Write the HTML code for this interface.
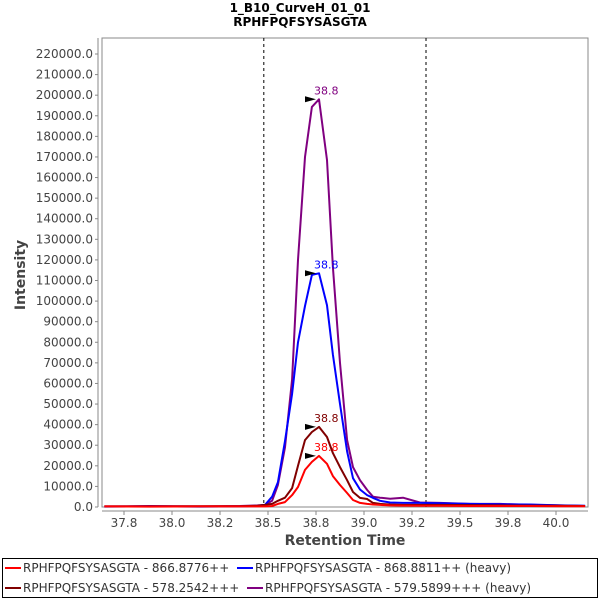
<!DOCTYPE html>
<html><head><meta charset="utf-8"><style>
body{margin:0;background:#fff;width:600px;height:600px;overflow:hidden;font-family:"Liberation Sans","DejaVu Sans",sans-serif}
</style></head><body>
<svg id="chart" width="600" height="600" xmlns="http://www.w3.org/2000/svg" font-family="DejaVu Sans, Liberation Sans, sans-serif">
<text x="300" y="12" text-anchor="middle" font-size="12" font-weight="bold">1_B10_CurveH_01_01</text>
<text x="300" y="26" text-anchor="middle" font-size="12" font-weight="bold">RPHFPQFSYSASGTA</text>
<rect x="102" y="38" width="486" height="469" fill="#fff" stroke="#888" stroke-width="1"/>
<line x1="98" y1="38" x2="98" y2="507" stroke="#888"/>
<line x1="102" y1="511" x2="588" y2="511" stroke="#888"/>
<g id="yticks"></g><g id="xticks"></g><g id="marks"></g><g id="series"></g><g id="peaks"></g>
<text transform="translate(25,275) rotate(-90)" text-anchor="middle" font-size="14" font-weight="bold" fill="#444">Intensity</text>
<text x="345" y="545" text-anchor="middle" font-size="14" font-weight="bold" fill="#444">Retention Time</text>
<g>
<rect x="2.5" y="558.5" width="595" height="39" fill="#fff" stroke="#000"/>
<g><line x1="5" y1="568" x2="21" y2="568" stroke="#ff0000" stroke-width="2"/><text x="23" y="572" font-size="12" fill="#333">RPHFPQFSYSASGTA - 866.8776++</text></g>
<g><line x1="237" y1="568" x2="253" y2="568" stroke="#0000ff" stroke-width="2"/><text x="255" y="572" font-size="12" fill="#333">RPHFPQFSYSASGTA - 868.8811++ (heavy)</text></g>
<g><line x1="5" y1="588" x2="21" y2="588" stroke="#800000" stroke-width="2"/><text x="23" y="592" font-size="12" fill="#333">RPHFPQFSYSASGTA - 578.2542+++</text></g>
<g><line x1="247" y1="588" x2="263" y2="588" stroke="#800080" stroke-width="2"/><text x="265" y="592" font-size="12" fill="#333">RPHFPQFSYSASGTA - 579.5899+++ (heavy)</text></g>
</g>
</svg>
<script>
const times=[37.70,37.93,38.19,38.39,38.48,38.518,38.554,38.584,38.620,38.656,38.686,38.722,38.757,38.793,38.834,38.864,38.900,38.936,38.966,39.002,39.038,39.068,39.104,39.155,39.221,39.307,39.409,39.562,39.715,39.868,40.020,40.148];
const redVals=[300,200,300,300,300,300,500,1500,2400,5800,9700,18000,21900,24800,21000,15000,10700,6800,3400,2000,1500,1200,1000,800,700,600,600,500,500,500,400,400];
const blueVals=[200,300,200,300,500,1000,5000,12000,32000,55000,80000,97600,112700,113500,98000,74000,50000,27000,14000,8500,5800,4400,3000,2200,2000,2000,1800,1500,1300,1200,800,600];
const darkRedVals=[300,300,400,400,600,1000,1500,3000,4500,9200,20000,32500,36400,38900,34000,26200,19400,13000,7300,4400,3900,2000,1500,1200,1000,1000,1000,900,800,700,600,500];
const purpleVals=[300,500,300,500,800,1000,3000,10700,29000,62000,120000,170000,194300,198000,168500,116500,70000,32500,19400,13000,8300,5000,4500,4000,4500,2200,2000,1500,1500,1000,800,500];
const yTicks=[0,10000,20000,30000,40000,50000,60000,70000,80000,90000,100000,110000,120000,130000,140000,150000,160000,170000,180000,190000,200000,210000,220000];
const xTickLabels=["37.8","38.0","38.2","38.5","38.8","39.0","39.2","39.5","39.8","40.0"];
const xTickStart=37.8, xTickEnd=40.0;
const dividers=[38.512,39.338];
const peakTime=[38.793,38.793,38.793,38.793];
const peakLabel=["38.8","38.8","38.8","38.8"];
const NS="http://www.w3.org/2000/svg";
function X(t){return 124+(t-37.8)*(432/2.2);}
function Y(v){return 507-v*(453/220000);}
function mk(tag,attrs,parent){const e=document.createElementNS(NS,tag);for(const k in attrs)e.setAttribute(k,attrs[k]);parent.appendChild(e);return e;}
const yg=document.getElementById('yticks');
yTicks.forEach(v=>{const y=Y(v);
 const l=mk('line',{x1:95,x2:98,y1:y,y2:y,stroke:'#888'},yg);
 
 
 const t=mk('text',{x:93,y:y+4,'text-anchor':'end','font-size':12,fill:'#444'},yg);
 
 
 t.textContent=v.toFixed(1);});
const xg=document.getElementById('xticks');
xTickLabels.forEach((lab,i)=>{const x=X(xTickStart+i*(xTickEnd-xTickStart)/(xTickLabels.length-1));
 const l=mk('line',{x1:x,x2:x,y1:511,y2:515,stroke:'#888'},xg);
 
 
 const t=mk('text',{x:x,y:527,'text-anchor':'middle','font-size':12,fill:'#444'},xg);
 
 
 t.textContent=lab;});
const mg=document.getElementById('marks');
dividers.forEach(d=>{const l=mk('line',{x1:X(d),x2:X(d),y1:38,y2:507,stroke:'#000','stroke-dasharray':'3,3','stroke-width':1},mg);
 
 });
const sg=document.getElementById('series');
const series=[[purpleVals,'#800080','purple'],[blueVals,'#0000ff','blue'],[darkRedVals,'#800000','darkred'],[redVals,'#ff0000','red']];
const order=[[redVals,'#ff0000'],[blueVals,'#0000ff'],[darkRedVals,'#800000'],[purpleVals,'#800080']];
series.forEach(([vals,c,n])=>{const d=vals.map((v,i)=>(i?'L':'M')+X(times[i]).toFixed(1)+','+Y(v).toFixed(1)).join(' ');
 const p=mk('path',{d:d,fill:'none',stroke:c,'stroke-width':2,'stroke-linejoin':'round'},sg);
 
 });
const pg=document.getElementById('peaks');
order.forEach(([vals,c],k)=>{const t=peakTime[k];const v=Math.max(...vals);const x=X(t),y=Y(v);
 const tri=mk('polygon',{points:`${x-14},${y-3} ${x-3},${y} ${x-14},${y+3}`,fill:'#000'},pg);
 
 
 const tx=mk('text',{x:x-5,y:y-5,'font-size':11,fill:c},pg);
 
 
 tx.textContent=peakLabel[k];});
</script>
</body></html>
